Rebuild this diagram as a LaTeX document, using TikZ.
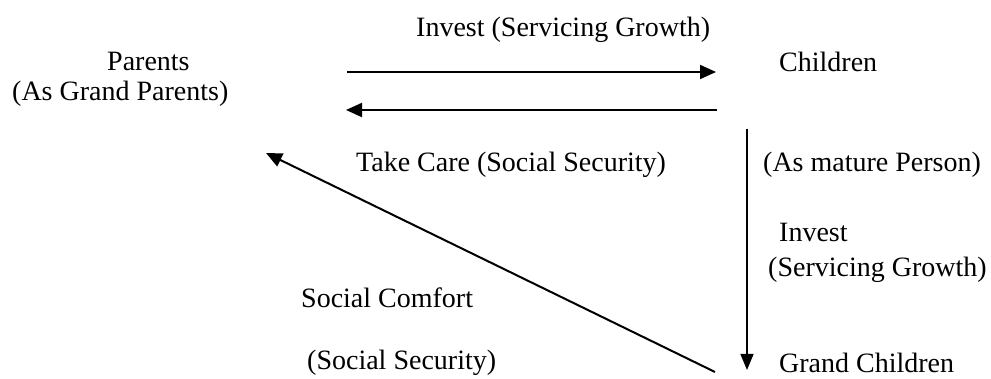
\documentclass[tikz,border=0pt]{standalone}
\usepackage{fontspec}
\setmainfont{Liberation Serif}
\usetikzlibrary{arrows.meta}
\begin{document}
\begin{tikzpicture}[x=1pt,y=1pt,
  lbl/.style={anchor=base west,inner sep=0pt,font=\fontsize{28}{30}\selectfont},
  flow/.style={line width=2pt,-{Triangle[length=16pt,width=14pt]}},
  thinflow/.style={line width=1.4pt,-{Triangle[length=16pt,width=13pt]}}]
\useasboundingbox (0,0) rectangle (991,379);
% generations
\node[lbl] (parents) at (107,308) {Parents};
\node[lbl] (parentsrole) at (12,278) {(As Grand Parents)};
\node[lbl] (children) at (779,307) {Children};
\node[lbl] (grandchildren) at (779,6) {Grand Children};
% flow labels
\node[lbl] (investtop) at (416,342) {Invest (Servicing Growth)};
\node[lbl] (takecare) at (356,207) {Take Care (Social Security)};
\node[lbl] (mature) at (763,207) {(As mature Person)};
\node[lbl] (investright) at (779,137) {Invest};
\node[lbl] (servicing) at (768,102) {(Servicing Growth)};
\node[lbl] (comfort) at (301,71) {Social Comfort};
\node[lbl] (security) at (307,9) {(Social Security)};
% arrow end points
\coordinate (a1s) at (347,307);
\coordinate (a1e) at (716,307);
\coordinate (a2s) at (717,269);
\coordinate (a2e) at (346,269);
\coordinate (a3s) at (747,250);
\coordinate (a3e) at (747,9);
\coordinate (a4s) at (715,7);
\coordinate (a4e) at (266,226);
% connectors
\draw[flow] (a1s) -- (a1e);
\draw[flow] (a2s) -- (a2e);
\draw[thinflow] (a3s) -- (a3e);
\draw[flow] (a4s) -- (a4e);
\end{tikzpicture}
\end{document}
